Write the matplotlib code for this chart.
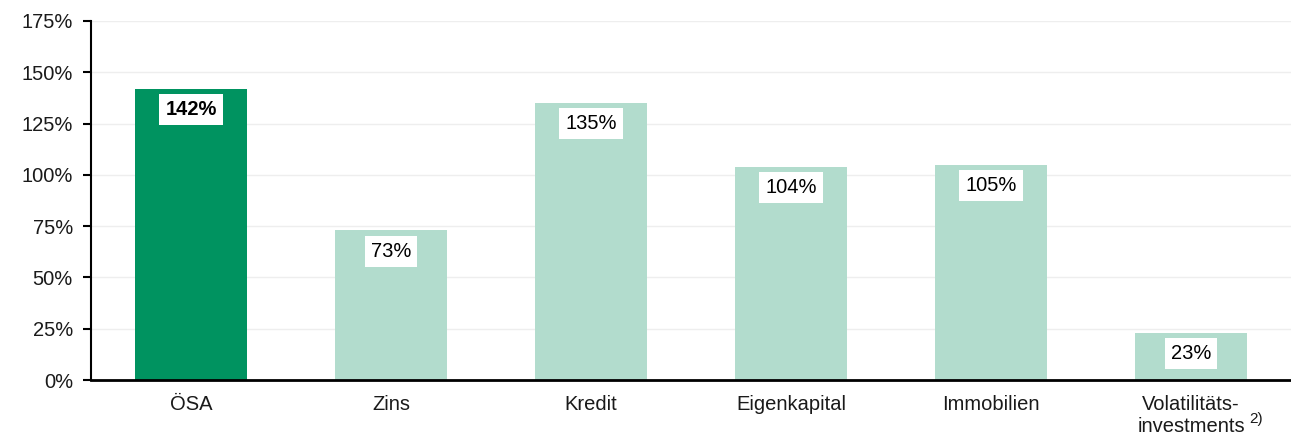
import matplotlib
matplotlib.use("Agg")
import matplotlib.pyplot as plt

plt.rcParams['font.family'] = ['Liberation Sans', 'DejaVu Sans']

categories = ['ÖSA', 'Zins', 'Kredit', 'Eigenkapital', 'Immobilien',
              'Volatilitäts-\ninvestments']
footnote = '2)'
values = [142, 73, 135, 104, 105, 23]
yticks = [0, 25, 50, 75, 100, 125, 150, 175]

dark = '#009360'
light = '#b2dccd'
colors = [dark] + [light] * (len(values) - 1)

fig = plt.figure(figsize=(12.91, 4.36), dpi=100)
ax = fig.add_axes([91 / 1291, 1 - 380 / 436, 1200 / 1291, 359 / 436])

x = list(range(len(values)))
ax.bar(x, values, width=0.56, color=colors, zorder=2)

for i, v in enumerate(values):
    ax.annotate(f'{v}%', xy=(i, v), xytext=(0, -15), textcoords='offset points',
                ha='center', va='center', fontsize=14.5,
                fontweight='bold' if i == 0 else 'normal',
                bbox=dict(boxstyle='square,pad=0.3', fc='white', ec='none'),
                zorder=3)

ax.set_xlim(-0.5, len(values) - 0.5)
ax.set_ylim(0, 175)
ax.set_yticks(yticks)
ax.set_yticklabels([f'{t}%' for t in yticks], fontsize=14.5, color='#1a1a1a')
ax.set_xticks(x)
ax.set_xticklabels(categories, fontsize=14.5, color='#1a1a1a', linespacing=1.15)
ax.tick_params(axis='x', length=0, pad=11)
ax.tick_params(axis='y', length=6, width=1.5, pad=7)

# footnote marker after the last category label
last = ax.get_xticklabels()[-1]
ax.annotate(footnote, xy=(1, 0), xycoords=last, xytext=(3, 7),
            textcoords='offset points', ha='left', va='bottom',
            fontsize=11, color='#1a1a1a', annotation_clip=False)

ax.grid(axis='y', color='#eeeeee', linewidth=1, zorder=0)
ax.set_axisbelow(True)
for s in ['top', 'right']:
    ax.spines[s].set_visible(False)
ax.spines['left'].set_linewidth(1.5)
ax.spines['bottom'].set_linewidth(2)
ax.spines['bottom'].set_zorder(4)

fig.savefig('out.png', dpi=100)
